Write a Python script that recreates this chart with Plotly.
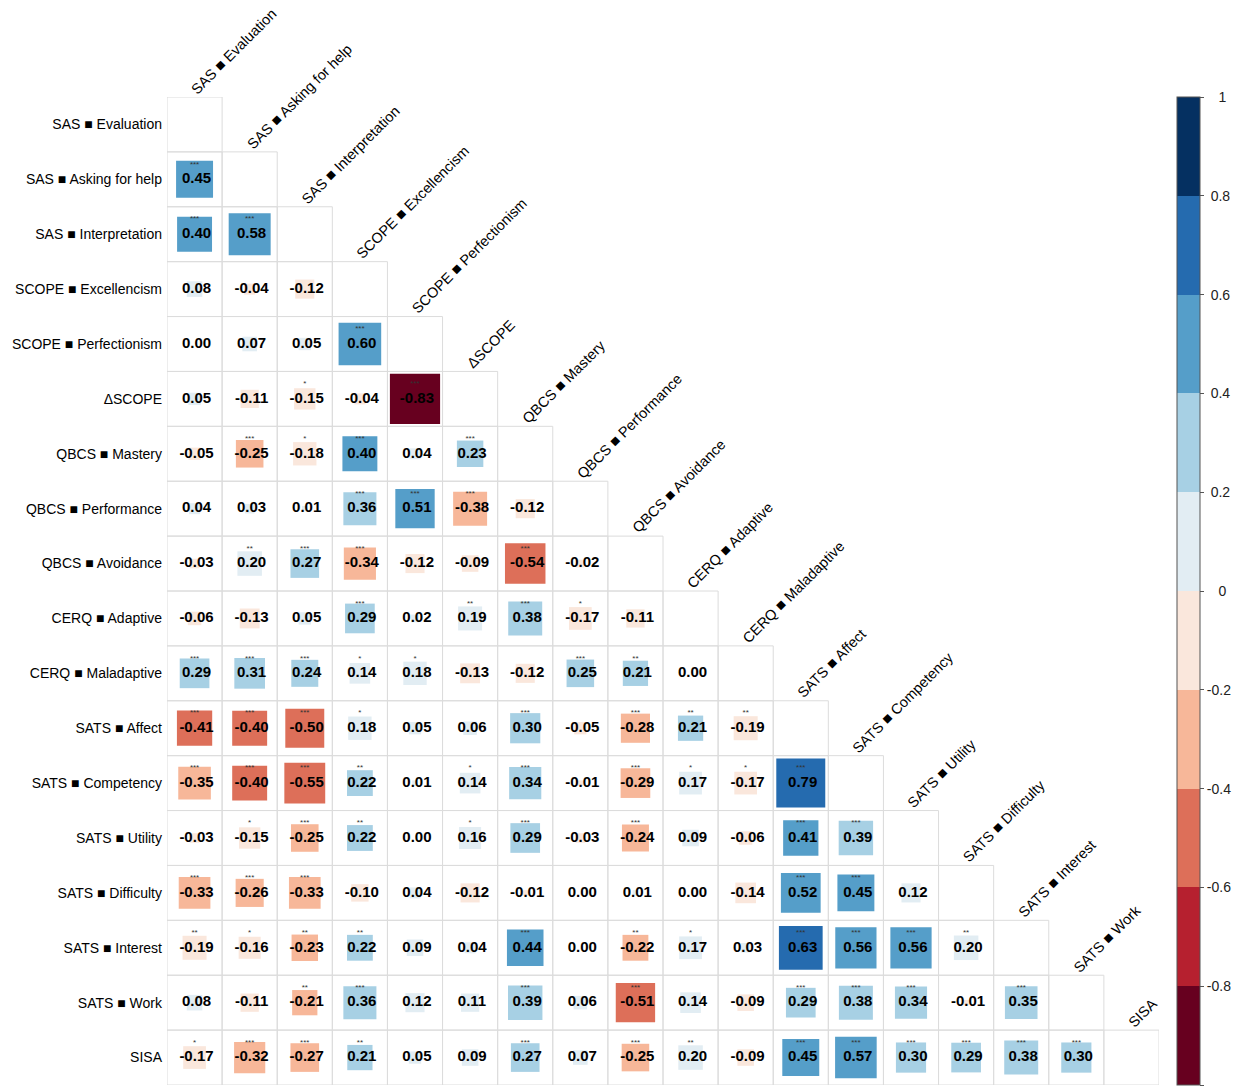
import numpy as np
import plotly.graph_objects as go

# Variable names (rows top-to-bottom, columns left-to-right)
variables = [
    "SAS ■ Evaluation",
    "SAS ■ Asking for help",
    "SAS ■ Interpretation",
    "SCOPE ■ Excellencism",
    "SCOPE ■ Perfectionism",
    "ΔSCOPE",
    "QBCS ■ Mastery",
    "QBCS ■ Performance",
    "QBCS ■ Avoidance",
    "CERQ ■ Adaptive",
    "CERQ ■ Maladaptive",
    "SATS ■ Affect",
    "SATS ■ Competency",
    "SATS ■ Utility",
    "SATS ■ Difficulty",
    "SATS ■ Interest",
    "SATS ■ Work",
    "SISA",
]

# Lower-triangle correlations, one list per row (columns 0 .. row-1)
corr_rows = [
    [],
    [0.45],
    [0.402, 0.58],
    [0.08, -0.04, -0.12],
    [0.00, 0.07, 0.05, 0.598],
    [0.05, -0.11, -0.15, -0.04, -0.83],
    [-0.05, -0.25, -0.18, 0.402, 0.04, 0.23],
    [0.04, 0.03, 0.01, 0.36, 0.51, -0.38, -0.12],
    [-0.03, 0.198, 0.27, -0.34, -0.12, -0.09, -0.54, -0.02],
    [-0.06, -0.13, 0.05, 0.29, 0.02, 0.19, 0.38, -0.17, -0.11],
    [0.29, 0.31, 0.24, 0.14, 0.18, -0.13, -0.12, 0.25, 0.21, 0.00],
    [-0.41, -0.402, -0.50, 0.18, 0.05, 0.06, 0.30, -0.05, -0.28, 0.21, -0.19],
    [-0.35, -0.402, -0.55, 0.22, 0.01, 0.14, 0.34, -0.01, -0.29, 0.17, -0.17, 0.79],
    [-0.03, -0.15, -0.25, 0.22, 0.00, 0.16, 0.29, -0.03, -0.24, 0.09, -0.06, 0.41, 0.39],
    [-0.33, -0.26, -0.33, -0.10, 0.04, -0.12, -0.01, 0.00, 0.01, 0.00, -0.14, 0.52, 0.45, 0.12],
    [-0.19, -0.16, -0.23, 0.22, 0.09, 0.04, 0.44, 0.00, -0.22, 0.17, 0.03, 0.63, 0.56, 0.56, 0.198],
    [0.08, -0.11, -0.21, 0.36, 0.12, 0.11, 0.39, 0.06, -0.51, 0.14, -0.09, 0.29, 0.38, 0.34, -0.01, 0.35],
    [-0.17, -0.32, -0.27, 0.21, 0.05, 0.09, 0.27, 0.07, -0.25, 0.198, -0.09, 0.45, 0.57, 0.30, 0.29, 0.38, 0.30],
]

# Significance markers matching corr_rows
sig_rows = [
    [],
    ["***"],
    ["***", "***"],
    ["", "", ""],
    ["", "", "", "***"],
    ["", "", "*", "", "***"],
    ["", "***", "*", "***", "", "***"],
    ["", "", "", "***", "***", "***", ""],
    ["", "**", "***", "***", "", "", "***", ""],
    ["", "", "", "***", "", "**", "***", "*", ""],
    ["***", "***", "***", "*", "*", "", "", "***", "**", ""],
    ["***", "***", "***", "*", "", "", "***", "", "***", "**", "**"],
    ["***", "***", "***", "**", "", "*", "***", "", "***", "*", "*", "***"],
    ["", "*", "***", "**", "", "*", "***", "", "***", "", "", "***", "***"],
    ["***", "***", "***", "", "", "", "", "", "", "", "", "***", "***", ""],
    ["**", "*", "**", "**", "", "", "***", "", "**", "*", "", "***", "***", "***", "**"],
    ["", "", "**", "***", "", "", "***", "", "***", "", "", "***", "***", "***", "", "***"],
    ["*", "***", "***", "**", "", "", "***", "", "***", "**", "", "***", "***", "***", "***", "***", "***"],
]

colorbar_ticks = [-1, -0.8, -0.6, -0.4, -0.2, 0, 0.2, 0.4, 0.6, 0.8, 1]
colorbar_labels = ["-1", "-0.8", "-0.6", "-0.4", "-0.2", "0", "0.2", "0.4", "0.6", "0.8", "1"]

# Ten-step diverging red/blue palette
palette = ["#67001F", "#B6202F", "#DD6F59", "#F7B799", "#FAE7DC",
           "#E2EDF3", "#A7D0E4", "#559EC9", "#256BAF", "#053061"]
colorscale = []
for k, c in enumerate(palette):
    colorscale += [[k / 10, c], [(k + 1) / 10, c]]

W, H = 1237, 1089
ML, MR, MT, MB = 167, 78, 97, 4
n = len(variables)
cell_px = (W - ML - MR) / n

xs, ys, rs, sigs = [], [], [], []
for i, row in enumerate(corr_rows):
    for j, r in enumerate(row):
        xs.append(j)
        ys.append(i)
        rs.append(r)
        sigs.append(sig_rows[i][j])
rs = np.array(rs)
sizes = cell_px * np.sqrt(np.abs(rs))

# Colorbar labels roughly centred on a common column
NBSP = "\u00a0"
pad = {1: 3, 2: 2, 3: 1, 4: 0}
cb_text = [NBSP * pad[len(t)] + t for t in colorbar_labels]

fig = go.Figure()

# Cell grid for the lower triangle (diagonal included)
for i in range(n):
    for j in range(i + 1):
        fig.add_shape(type="rect", xref="x", yref="y",
                      x0=j - 0.5, x1=j + 0.5, y0=i - 0.5, y1=i + 0.5,
                      line=dict(color="#DCDCDC", width=1), layer="below")

# Squares sized by |r| and coloured by r
fig.add_trace(go.Scatter(
    x=xs, y=ys, mode="markers",
    marker=dict(
        symbol="square", size=sizes, color=rs, cmin=-1, cmax=1, opacity=1,
        colorscale=colorscale, line=dict(width=0),
        showscale=True,
        colorbar=dict(
            thickness=23, x=(1177 - ML) / (W - ML - MR), xanchor="left", xpad=0,
            y=1, yanchor="top", len=988, lenmode="pixels", ypad=0,
            tickvals=colorbar_ticks, ticktext=cb_text,
            ticks="outside", ticklen=4, tickcolor="#555",
            outlinewidth=1, outlinecolor="#555",
            tickfont=dict(family="Liberation Sans, Arial", size=14, color="#222"),
        ),
    ),
    hoverinfo="skip", showlegend=False,
))

# Coefficient labels
fig.add_trace(go.Scatter(
    x=[x + 0.035 for x in xs], y=ys, mode="text",
    text=[f"{r:.2f}" for r in rs],
    textposition="middle center",
    textfont=dict(family="Liberation Sans, Arial", size=15, color="black", weight="bold"),
    hoverinfo="skip", showlegend=False,
))

# Significance stars above each coefficient
fig.add_trace(go.Scatter(
    x=xs, y=[y - 0.27 for y in ys], mode="text",
    text=sigs, textposition="middle center",
    textfont=dict(family="Liberation Sans, Arial", size=8, color="#333"),
    hoverinfo="skip", showlegend=False,
))

# Diagonal column headers
for j, name in enumerate(variables):
    fig.add_annotation(
        x=j, y=j - 0.5, xref="x", yref="y", text=name,
        textangle=-45, xanchor="left", yanchor="bottom",
        showarrow=False, xshift=-9, yshift=-3,
        font=dict(family="Liberation Sans, Arial", size=14.5, color="black"),
    )

fig.update_layout(
    width=W, height=H,
    margin=dict(l=ML, r=MR, t=MT, b=MB, autoexpand=False),
    paper_bgcolor="white", plot_bgcolor="white",
    xaxis=dict(range=[-0.5, n - 0.5], visible=False, fixedrange=True),
    yaxis=dict(
        range=[n - 0.5, -0.5], tickvals=list(range(n)), ticktext=variables,
        showgrid=False, zeroline=False, showline=False, ticks="",
        ticklabelstandoff=4,
        tickfont=dict(family="Liberation Sans, Arial", size=14, color="black"),
    ),
)

fig.write_html("out.html")
